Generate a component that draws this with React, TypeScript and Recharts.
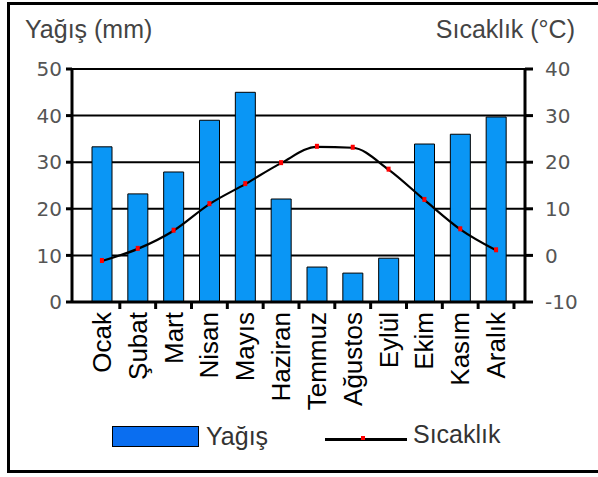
import React from "react";
import {
  ComposedChart,
  Bar,
  Line,
  XAxis,
  YAxis,
  CartesianGrid,
} from "recharts";

const MONTHS = [
  "Ocak", "Şubat", "Mart", "Nisan", "Mayıs", "Haziran",
  "Temmuz", "Ağustos", "Eylül", "Ekim", "Kasım", "Aralık",
];
const RAIN = [33.3, 23.2, 27.9, 39, 45, 22.1, 7.5, 6.2, 9.4, 33.9, 36, 39.7];
const TEMP = [-1.2, 1.4, 5.3, 11, 15.3, 19.8, 23.3, 23.1, 18.4, 11.9, 5.6, 1.1];
const RAIN_TICKS = [0, 10, 20, 30, 40, 50];
const TEMP_TICKS = [-10, 0, 10, 20, 30, 40];

const data = MONTHS.map((month, i) => ({
  month,
  rain: RAIN[i],
  temp: TEMP[i],
}));

const FONT = "'Liberation Sans', Arial, sans-serif";
const TICK_STYLE = { fill: "#555", fontSize: 20, fontFamily: "'DejaVu Sans', sans-serif" };

function MonthTick(props: any) {
  const { x, y, payload } = props;
  const half = 35.8 / 2;
  return (
    <g>
      <line x1={x + half} y1={y - 8} x2={x + half} y2={y - 1} stroke="#000" strokeWidth={3} />
      <text
        x={0}
        y={0}
        transform={`translate(${x + 9},${y + 2}) rotate(-90)`}
        textAnchor="end"
        fontSize={26}
        fontFamily={FONT}
        fill="#000"
      >
        {payload.value}
      </text>
    </g>
  );
}

function TempDot(props: any) {
  const { cx, cy } = props;
  if (cx == null || cy == null) return null;
  return <rect x={cx - 2} y={cy - 3} width={4} height={5} fill="#ff0000" />;
}

export default function App() {
  return (
    <div style={{ position: "absolute", left: 0, top: 0, width: 598, height: 477, overflow: "hidden", background: "#fff" }}>
      <div
        style={{
          position: "absolute",
          left: 7,
          top: 2,
          width: 620,
          height: 465,
          border: "3px solid #000",
          boxSizing: "content-box",
        }}
      />
      <div style={{ position: "absolute", left: 25, top: 15, fontSize: 25, fontFamily: FONT, color: "#444" }}>
        Yağış (mm)
      </div>
      <div style={{ position: "absolute", right: 23, top: 15, fontSize: 25, fontFamily: FONT, color: "#444" }}>
        Sıcaklık (°C)
      </div>
      <div style={{ position: "absolute", left: 0, top: 0 }}>
        <ComposedChart
          width={598}
          height={477}
          data={data}
          margin={{ top: 69, right: 13, left: 12, bottom: 115 }}
        >
          <CartesianGrid vertical={false} stroke="#000" strokeWidth={2} yAxisId="rain" />
          <XAxis
            dataKey="month"
            interval={0}
            height={60}
            padding={{ left: 12, right: 11 }}
            axisLine={{ stroke: "#000", strokeWidth: 3 }}
            tickLine={false}
            tick={<MonthTick />}
          />
          <YAxis
            yAxisId="rain"
            orientation="left"
            width={60}
            domain={[0, 50]}
            ticks={RAIN_TICKS}
            axisLine={{ stroke: "#000", strokeWidth: 3 }}
            tickLine={{ stroke: "#000", strokeWidth: 3 }}
            tickSize={6}
            tickMargin={4}
            tick={TICK_STYLE}
          />
          <YAxis
            yAxisId="temp"
            orientation="right"
            width={60}
            domain={[-10, 40]}
            ticks={TEMP_TICKS}
            axisLine={{ stroke: "#000", strokeWidth: 3 }}
            tickLine={{ stroke: "#000", strokeWidth: 3 }}
            tickSize={8}
            tickMargin={12}
            tick={{ ...TICK_STYLE, textAnchor: "start" }}
          />
          <Bar
            yAxisId="rain"
            dataKey="rain"
            fill="#0a96f5"
            stroke="#000"
            strokeWidth={1}
            barSize={20}
            isAnimationActive={false}
          />
          <Line
            yAxisId="temp"
            dataKey="temp"
            type="monotone"
            stroke="#000"
            strokeWidth={2.2}
            dot={<TempDot />}
            activeDot={false}
            isAnimationActive={false}
          />
        </ComposedChart>
      </div>
      <div style={{ position: "absolute", left: 112, top: 426, width: 85, height: 19, background: "#0a6ef0", border: "1px solid #000" }} />
      <div style={{ position: "absolute", left: 206, top: 422, fontSize: 25, fontFamily: FONT, color: "#333" }}>Yağış</div>
      <div style={{ position: "absolute", left: 325, top: 438, width: 82, height: 3, background: "#000" }} />
      <div style={{ position: "absolute", left: 361, top: 436, width: 4, height: 4, background: "#ff0000" }} />
      <div style={{ position: "absolute", left: 413, top: 420, fontSize: 25, fontFamily: FONT, color: "#333" }}>Sıcaklık</div>
    </div>
  );
}
